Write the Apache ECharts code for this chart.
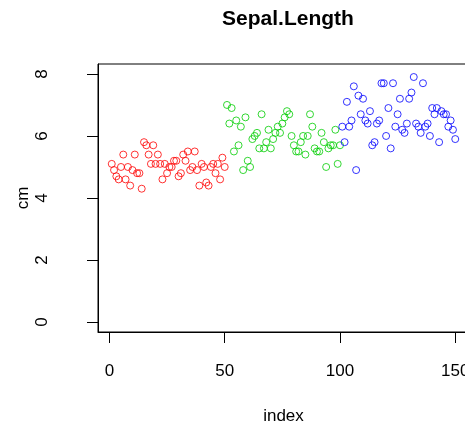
<!DOCTYPE html>
<html><head><meta charset="utf-8">
<script src="https://cdn.jsdelivr.net/npm/echarts@6/dist/echarts.min.js"></script>
<style>html,body{margin:0;padding:0;background:#fff}#c{width:465px;height:425px}</style>
</head><body><div id="c"></div>
<script>
var setosa = [5.1,4.9,4.7,4.6,5.0,5.4,4.6,5.0,4.4,4.9,5.4,4.8,4.8,4.3,5.8,5.7,5.4,5.1,5.7,5.1,5.4,5.1,4.6,5.1,4.8,5.0,5.0,5.2,5.2,4.7,4.8,5.4,5.2,5.5,4.9,5.0,5.5,4.9,4.4,5.1,5.0,4.5,4.4,5.0,5.1,4.8,5.1,4.6,5.3,5.0];
var versicolor = [7.0,6.4,6.9,5.5,6.5,5.7,6.3,4.9,6.6,5.2,5.0,5.9,6.0,6.1,5.6,6.7,5.6,5.8,6.2,5.6,5.9,6.1,6.3,6.1,6.4,6.6,6.8,6.7,6.0,5.7,5.5,5.5,5.8,6.0,5.4,6.0,6.7,6.3,5.6,5.5,5.5,6.1,5.8,5.0,5.6,5.7,5.7,6.2,5.1,5.7];
var virginica = [6.3,5.8,7.1,6.3,6.5,7.6,4.9,7.3,6.7,7.2,6.5,6.4,6.8,5.7,5.8,6.4,6.5,7.7,7.7,6.0,6.9,5.6,7.7,6.3,6.7,7.2,6.2,6.1,6.4,7.2,7.4,7.9,6.4,6.3,6.1,7.7,6.3,6.4,6.0,6.9,6.7,6.9,5.8,6.8,6.7,6.7,6.3,6.5,6.2,5.9];
var xTicks = [0,50,100,150];
var yTicks = [0,2,4,6,8];
var colors = ['#FF0000','#00CD00','#0000FF'];

function pts(arr, offset){ return arr.map(function(v,i){ return [i+1+offset, v]; }); }
var groups = [pts(setosa,0), pts(versicolor,50), pts(virginica,100)];

var chart = echarts.init(document.getElementById('c'), null, {renderer:'canvas'});
var font = 'Liberation Sans, Arial, sans-serif';
chart.setOption({
  animation:false,
  title:{text:'Sepal.Length', left:283, top:4, textAlign:'center',
    textStyle:{fontFamily:font, fontSize:21, fontWeight:'bold', color:'#000'}},
  grid:{left:98, top:64, width:371, height:268, show:true, borderColor:'#000', borderWidth:1,
    containLabel:false, outerBoundsMode:'none'},
  xAxis:{type:'value', min:-4.96, max:155.96, splitLine:{show:false},
    axisLine:{show:true, onZero:false, lineStyle:{color:'#000'}},
    axisTick:{show:true, inside:false, length:11, customValues:xTicks, lineStyle:{color:'#000'}},
    axisLabel:{customValues:xTicks, margin:31, fontFamily:font, fontSize:17, color:'#000'},
    name:'index', nameLocation:'middle', nameGap:76, nameMoveOverlap:false,
    nameTextStyle:{fontFamily:font, fontSize:17, color:'#000'}},
  yAxis:{type:'value', min:-0.32, max:8.32, splitLine:{show:false},
    axisLine:{show:true, onZero:false, lineStyle:{color:'#000'}},
    axisTick:{show:true, inside:false, length:11, customValues:yTicks, lineStyle:{color:'#000'}},
    axisLabel:{customValues:yTicks, rotate:90, margin:47, fontFamily:font, fontSize:17, color:'#000'},
    name:'cm', nameLocation:'middle', nameGap:66, nameRotate:90, nameMoveOverlap:false,
    nameTextStyle:{fontFamily:font, fontSize:17, color:'#000'}},
  series: groups.map(function(g,i){ return {
    type:'scatter', data:g, symbol:'circle', symbolSize:7,
    itemStyle:{color:'rgba(0,0,0,0)', borderColor:colors[i], borderWidth:1},
    emphasis:{disabled:true}, clip:false
  };})
});
</script></body></html>
